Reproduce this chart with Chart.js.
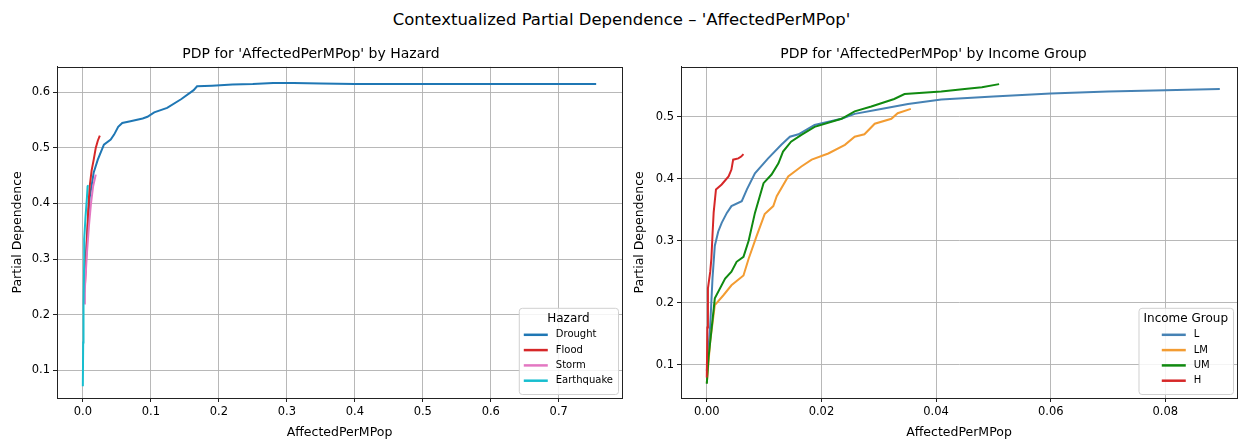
<!DOCTYPE html>
<html>
<head>
<meta charset="utf-8">
<script src="https://cdn.jsdelivr.net/npm/chart.js@4.4.1/dist/chart.umd.min.js"></script>
<style>
  body { margin:0; background:#fff; width:1243px; height:442px; overflow:hidden; position:relative; font-family:'DejaVu Sans', sans-serif; }
  #sup { position:absolute; left:0; top:10px; width:1243px; text-align:center; font-size:16.5px; color:#000; }
  .pane { position:absolute; top:40px; height:402px; }
</style>
</head>
<body>
<div id="sup">Contextualized Partial Dependence – 'AffectedPerMPop'</div>
<div class="pane" style="left:0;width:630px"><canvas id="hazardChart" width="630" height="402"></canvas></div>
<div class="pane" style="left:630px;width:613px"><canvas id="incomeChart" width="613" height="402"></canvas></div>
<script>
// --- data (x = AffectedPerMPop, y = partial dependence)
const hazardLabels = ["Drought", "Flood", "Storm", "Earthquake"];
const drought = [[0.002,0.24],[0.006,0.34],[0.010,0.41],[0.016,0.456],[0.022,0.479],[0.031,0.506],[0.041,0.515],[0.046,0.524],[0.052,0.538],[0.058,0.545],[0.070,0.548],[0.088,0.553],[0.095,0.556],[0.105,0.564],[0.124,0.572],[0.145,0.588],[0.163,0.604],[0.168,0.611],[0.19,0.612],[0.22,0.614],[0.25,0.615],[0.28,0.617],[0.31,0.617],[0.35,0.616],[0.40,0.615],[0.50,0.615],[0.60,0.615],[0.70,0.615],[0.755,0.615]];
const flood = [[0.003,0.25],[0.004,0.28],[0.006,0.33],[0.008,0.39],[0.010,0.43],[0.013,0.46],[0.016,0.479],[0.019,0.50],[0.022,0.513],[0.025,0.522]];
const storm = [[0.002,0.22],[0.003,0.247],[0.006,0.31],[0.009,0.36],[0.012,0.40],[0.015,0.43],[0.019,0.452]];
const earthquake = [[0,0.071],[0.0005,0.15],[0.001,0.216],[0.002,0.30],[0.002,0.336],[0.004,0.377],[0.006,0.41],[0.007,0.431],[0.008,0.433]];

const incomeLabels = ["L", "LM", "UM", "H"];
const incL = [[0,0.09],[0.0006,0.164],[0.001,0.24],[0.0014,0.292],[0.002,0.315],[0.0026,0.329],[0.0035,0.345],[0.0043,0.356],[0.0061,0.364],[0.007,0.383],[0.0084,0.409],[0.0107,0.433],[0.013,0.455],[0.0145,0.468],[0.016,0.472],[0.0188,0.487],[0.0235,0.497],[0.0258,0.505],[0.0304,0.513],[0.0351,0.521],[0.0409,0.528],[0.05,0.533],[0.06,0.538],[0.07,0.541],[0.08,0.543],[0.0895,0.545]];
const incLM = [[0,0.07],[0.0006,0.138],[0.0014,0.196],[0.0029,0.212],[0.0043,0.228],[0.0064,0.244],[0.0073,0.271],[0.0087,0.308],[0.0101,0.343],[0.0116,0.356],[0.0122,0.372],[0.0142,0.404],[0.0165,0.42],[0.0183,0.431],[0.0212,0.441],[0.0241,0.455],[0.0258,0.468],[0.0275,0.472],[0.0293,0.489],[0.0322,0.497],[0.0333,0.506],[0.0356,0.513]];
const incUM = [[0,0.069],[0.0003,0.111],[0.0014,0.207],[0.0032,0.239],[0.0043,0.25],[0.0052,0.266],[0.0064,0.274],[0.0073,0.30],[0.0084,0.345],[0.0099,0.393],[0.0113,0.407],[0.0125,0.425],[0.0133,0.444],[0.0147,0.46],[0.0165,0.471],[0.0188,0.484],[0.0235,0.497],[0.0258,0.509],[0.0287,0.517],[0.0327,0.529],[0.0345,0.537],[0.0409,0.541],[0.045,0.545],[0.048,0.548],[0.051,0.553]];
const incH = [[0,0.079],[0.0001,0.16],[0.0002,0.223],[0.0006,0.25],[0.0008,0.271],[0.001,0.31],[0.0012,0.346],[0.0016,0.383],[0.0026,0.391],[0.0038,0.404],[0.0043,0.415],[0.0046,0.431],[0.0055,0.433],[0.006,0.436],[0.0064,0.44]];

const hazardXTicks = [0, 0.1, 0.2, 0.3, 0.4, 0.5, 0.6, 0.7];
const hazardYTicks = [0.1, 0.2, 0.3, 0.4, 0.5, 0.6];
const incomeXTicks = [0, 0.02, 0.04, 0.06, 0.08];
const incomeYTicks = [0.1, 0.2, 0.3, 0.4, 0.5];

// --- styling
const FONT = "'DejaVu Sans', sans-serif";
Chart.defaults.font.family = FONT;
Chart.defaults.color = "#000";
const GRID = "rgba(176,176,176,0.9)";
const EDGE = "#222";

const toPts = arr => arr.map(([x, y]) => ({ x, y }));
function series(label, arr, color, order) {
  return { label, data: toPts(arr), borderColor: color, backgroundColor: color, borderWidth: 2,
           showLine: true, pointRadius: 0, tension: 0, order };
}

function axis(min, max, ticks, digits, title, opts) {
  return {
    type: "linear", min, max,
    afterBuildTicks: s => { s.ticks = ticks.map(v => ({ value: v })); },
    afterFit: opts.fit,
    ticks: { callback: v => v.toFixed(digits), font: { size: 11.5 }, padding: 3, maxRotation: 0, autoSkip: false },
    grid: { color: GRID, lineWidth: 1, tickLength: 4, tickColor: EDGE },
    border: { color: EDGE, width: 1 },
    title: { display: true, text: title, font: { size: 12.5 }, padding: opts.titlePad }
  };
}

// frame on all four sides
const framePlugin = {
  id: "frame",
  afterDatasetsDraw(chart) {
    const { ctx, chartArea: a } = chart;
    ctx.save();
    ctx.strokeStyle = EDGE; ctx.lineWidth = 1;
    ctx.strokeRect(Math.round(a.left) + 0.5, Math.round(a.top) + 0.5, Math.round(a.width), Math.round(a.height));
    ctx.restore();
  }
};

// matplotlib-like legend in the lower right corner
const boxLegend = {
  id: "boxLegend",
  afterDraw(chart, args, o) {
    const { ctx, chartArea: a } = chart;
    const sets = chart.data.datasets;
    ctx.save();
    ctx.font = "12px " + FONT;
    const titleW = ctx.measureText(o.title).width;
    ctx.font = "10px " + FONT;
    const textW = Math.max(...sets.map(d => ctx.measureText(d.label).width));
    const handle = 24, gap = 8, pad = 5, rowH = 15.3;
    const entW = handle + gap + textW;
    const w = Math.max(titleW, entW) + pad * 2;
    const h = 27 + rowH * sets.length - 2;
    const right = a.right - 4, bottom = a.bottom - 4;
    const left = right - w, top = bottom - h;
    ctx.fillStyle = "rgba(255,255,255,0.85)";
    ctx.strokeStyle = "#d0d0d0"; ctx.lineWidth = 1;
    ctx.beginPath(); ctx.roundRect(left + 0.5, top + 0.5, w, h, 3); ctx.fill(); ctx.stroke();
    const cx = left + w / 2;
    ctx.fillStyle = "#000"; ctx.textBaseline = "middle"; ctx.textAlign = "center";
    ctx.font = "12px " + FONT;
    ctx.fillText(o.title, cx, top + 11);
    ctx.font = "10px " + FONT; ctx.textAlign = "left";
    const x0 = cx - entW / 2;
    sets.forEach((d, i) => {
      const y = top + 27 + i * rowH;
      ctx.strokeStyle = d.borderColor; ctx.lineWidth = 2.5;
      ctx.beginPath(); ctx.moveTo(x0, y); ctx.lineTo(x0 + handle, y); ctx.stroke();
      ctx.fillStyle = "#000";
      ctx.fillText(d.label, x0 + handle + gap, y);
    });
    ctx.restore();
  }
};

function baseOptions(title, legendTitle, padRight, scales) {
  return {
    responsive: false, animation: false, devicePixelRatio: 1,
    layout: { padding: { left: 0, right: padRight, top: 0, bottom: 0 } },
    plugins: {
      legend: { display: false }, tooltip: { enabled: false },
      title: { display: true, text: title, font: { size: 14, weight: "normal" }, color: "#000", padding: { top: 6, bottom: 4 } },
      boxLegend: { title: legendTitle }
    },
    scales
  };
}

new Chart(document.getElementById("hazardChart"), {
  type: "scatter",
  data: {
    datasets: [
      series(hazardLabels[0], drought, "#1f77b4", 3),
      series(hazardLabels[1], flood, "#d62728", 2),
      series(hazardLabels[2], storm, "#e377c2", 1),
      series(hazardLabels[3], earthquake, "#17becf", 0)
    ]
  },
  options: baseOptions("PDP for 'AffectedPerMPop' by Hazard", "Hazard", 8, {
    x: axis(-0.038, 0.793, hazardXTicks, 1, "AffectedPerMPop", { fit: s => { s.height = 44; }, titlePad: { top: 2, bottom: 2 } }),
    y: axis(0.05, 0.646, hazardYTicks, 1, "Partial Dependence", { fit: s => { s.width = 57; }, titlePad: { top: 10, bottom: 0 } })
  }),
  plugins: [framePlugin, boxLegend]
});

new Chart(document.getElementById("incomeChart"), {
  type: "scatter",
  data: {
    datasets: [
      series(incomeLabels[0], incL, "#4682b4", 3),
      series(incomeLabels[1], incLM, "#f39c32", 2),
      series(incomeLabels[2], incUM, "#108a10", 1),
      series(incomeLabels[3], incH, "#d62728", 0)
    ]
  },
  options: baseOptions("PDP for 'AffectedPerMPop' by Income Group", "Income Group", 6, {
    x: axis(-0.0045, 0.0925, incomeXTicks, 2, "AffectedPerMPop", { fit: s => { s.height = 44; }, titlePad: { top: 2, bottom: 2 } }),
    y: axis(0.046, 0.581, incomeYTicks, 1, "Partial Dependence", { fit: s => { s.width = 51; }, titlePad: { top: 2, bottom: 0 } })
  }),
  plugins: [framePlugin, boxLegend]
});
</script>
</body>
</html>
